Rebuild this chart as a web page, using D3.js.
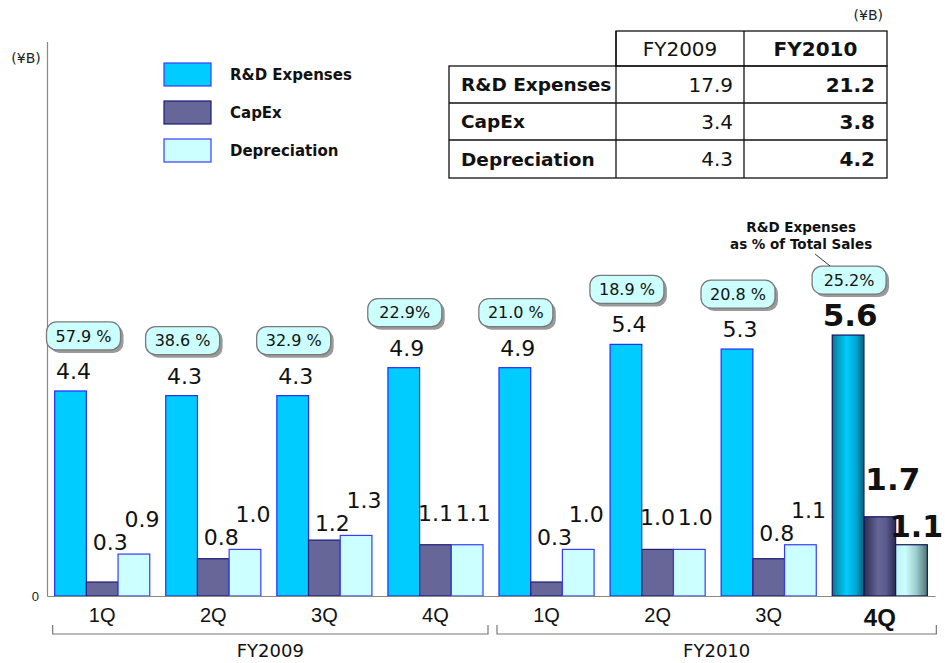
<!DOCTYPE html>
<html><head><meta charset="utf-8">
<script src="https://cdn.jsdelivr.net/npm/d3@7"></script>
<style>
html,body{margin:0;padding:0;background:#fff;}
svg{display:block;font-family:"DejaVu Sans",Verdana,sans-serif;}
</style></head>
<body>
<svg id="c" width="945" height="663"></svg>
<script>
// ---- data ----
const quarters = ["1Q","2Q","3Q","4Q","1Q","2Q","3Q","4Q"];
const fiscalYears = ["FY2009","FY2010"];
const rndExpenses = [4.4,4.3,4.3,4.9,4.9,5.4,5.3,5.6];
const capex = [0.3,0.8,1.2,1.1,0.3,1.0,0.8,1.7];
const depreciation = [0.9,1.0,1.3,1.1,1.0,1.0,1.1,1.1];
const rndPctOfSales = ["57.9 %","38.6 %","32.9 %","22.9%","21.0 %","18.9 %","20.8 %","25.2%"];
const seriesNames = ["R&D Expenses","CapEx","Depreciation"];
const tableCols = ["FY2009","FY2010"];
const table2009 = [17.9,3.4,4.3];
const table2010 = [21.2,3.8,4.2];
const unitLabel = "(¥B)";
const pctNote = ["R&D Expenses","as % of Total Sales"];

// ---- setup ----
const svg = d3.select("#c");
const defs = svg.append("defs");
const colors = ["#00ccff","#666699","#ccffff"];
const strokes = ["#2a2aff","#1a1a7a","#3a3aff"];
const hl = 7; // highlighted (latest) quarter

function grad(id, stops){
  const g = defs.append("linearGradient").attr("id",id).attr("x1","0").attr("x2","1").attr("y1","0").attr("y2","0");
  stops.forEach(s=>g.append("stop").attr("offset",s[0]).attr("stop-color",s[1]));
}
grad("g0",[["0%","#0f6f88"],["15%","#0896b8"],["45%","#00ccff"],["75%","#00a8d4"],["100%","#005f7c"]]);
grad("g1",[["0%","#2c2c52"],["45%","#666699"],["70%","#5a5a8c"],["100%","#2a2a50"]]);
grad("g2",[["0%","#b8f0f0"],["30%","#ccffff"],["65%","#9ccccc"],["100%","#4c7676"]]);

const idx = d3.range(quarters.length);
const x0 = d3.scaleBand().domain(idx).range([47,935]).paddingInner(0.144).paddingOuter(0.069);
const x1 = d3.scaleBand().domain([0,1,2]).range([0,x0.bandwidth()]);
const y = d3.scaleLinear().domain([0,11.9]).range([596,41.5]);

// ---- axes ----
const yAxis = svg.append("g").attr("transform","translate(47,0)")
  .call(d3.axisLeft(y).tickValues([0]).tickSizeInner(0).tickSizeOuter(0).tickPadding(8));
yAxis.select(".domain").attr("stroke","#888").attr("stroke-width",1.2);
yAxis.selectAll("text").attr("font-size",13).attr("fill","#222");
svg.append("text").attr("x",26).attr("y",63).attr("text-anchor","middle").attr("font-size",14).attr("fill","#222").text(unitLabel);

// ---- bars ----
const series = [rndExpenses,capex,depreciation];
const g = svg.append("g");
idx.forEach(i=>{
  series.forEach((arr,s)=>{
    g.append("rect")
      .attr("x",x0(i)+x1(s)).attr("y",y(arr[i]))
      .attr("width",x1.bandwidth()).attr("height",y(0)-y(arr[i]))
      .attr("fill", i===hl ? `url(#g${s})` : colors[s])
      .attr("stroke", i===hl ? "#14145a" : strokes[s]).attr("stroke-width",1.2);
  });
});

const xAxis = svg.append("g").attr("transform","translate(0,596)")
  .call(d3.axisBottom(x0).tickSize(0).tickPadding(10).tickFormat(i=>quarters[i]));
xAxis.select(".domain").attr("stroke","#888").attr("stroke-width",1.2);
xAxis.selectAll("text").attr("font-size",i=>i===hl?24:20).attr("font-weight",i=>i===hl?"bold":"normal")
  .attr("fill","#111").attr("dy",i=>i===hl?"0.85em":"0.8em");

// ---- value labels ----
const lab = svg.append("g").attr("fill","#111");
idx.forEach(i=>{
  const big = i===hl;
  const cx = s => x0(i)+x1(s)+x1.bandwidth()/2;
  lab.append("text").attr("x",cx(0)+(big?2:3)).attr("y",y(rndExpenses[i])-(big?9:12))
    .attr("text-anchor","middle").attr("font-size",big?31:22).attr("font-weight",big?"bold":"normal")
    .text(rndExpenses[i].toFixed(1));
  let capB, depB, capDx = 8, depDx = 8;
  if(big){ capB = y(capex[i])-27; depB = y(depreciation[i])-8; capDx = 13; depDx = 5; }
  else if(capex[i]===depreciation[i]){ capB = depB = y(capex[i])-24; capDx = 0; depDx = 6; }
  else { capB = Math.min(y(capex[i]),y(depreciation[i]))-4; depB = capB-23; }
  lab.append("text").attr("x",cx(1)+capDx).attr("y",capB)
    .attr("text-anchor","middle").attr("font-size",big?31:22).attr("font-weight",big?"bold":"normal")
    .text(capex[i].toFixed(1));
  lab.append("text").attr("x",cx(2)+depDx).attr("y",depB)
    .attr("text-anchor","middle").attr("font-size",big?30:22).attr("font-weight",big?"bold":"normal")
    .text(depreciation[i].toFixed(1));
});

// ---- percentage bubbles ----
const bub = svg.append("g");
idx.forEach(i=>{
  const cx = x0(i)+x1(0)+x1.bandwidth()/2 + (i===0?13:1);
  const cy = y(rndExpenses[i]) - 55;
  const w = 74, h = 28;
  bub.append("rect").attr("x",cx-w/2+3).attr("y",cy-h/2+3).attr("width",w).attr("height",h)
    .attr("rx",10).attr("fill","#9a9a9a");
  bub.append("rect").attr("x",cx-w/2).attr("y",cy-h/2).attr("width",w).attr("height",h)
    .attr("rx",10).attr("fill","#ccffff").attr("stroke","#7a7a7a").attr("stroke-width",1.3);
  bub.append("text").attr("x",cx).attr("y",cy).attr("dy","0.36em").attr("text-anchor","middle")
    .attr("font-size",16).attr("fill","#111").text(rndPctOfSales[i]);
});
// annotation for the bubbles
{
  const bx = x0(hl)+x1(0)+x1.bandwidth()/2;
  const by = y(rndExpenses[hl]) - 55;
  const ax = bx - 47;
  svg.append("text").attr("x",ax).attr("y",by-48).attr("text-anchor","middle").attr("font-size",13.5)
    .attr("font-weight","bold").attr("fill","#111").text(pctNote[0]);
  svg.append("text").attr("x",ax).attr("y",by-31).attr("text-anchor","middle").attr("font-size",13.5)
    .attr("font-weight","bold").attr("fill","#111").text(pctNote[1]);
  svg.append("line").attr("x1",bx-33).attr("y1",by-26).attr("x2",bx-18).attr("y2",by-14)
    .attr("stroke","#333").attr("stroke-width",1);
}

// ---- fiscal year brackets ----
const br = svg.append("g");
fiscalYears.forEach((fy,k)=>{
  const first = k*4, last = k*4+3;
  const xs = x0(first)-2;
  const xe = x0(last)+x0.bandwidth()+(k===0?5:9);
  br.append("path").attr("d",`M${xs},625V634H${xe}V625`).attr("fill","none")
    .attr("stroke","#777").attr("stroke-width",1.2);
  br.append("text").attr("x",(xs+xe)/2).attr("y",657).attr("text-anchor","middle")
    .attr("font-size",18).attr("fill","#111").text(fy);
});

// ---- legend ----
const leg = svg.append("g");
seriesNames.forEach((n,s)=>{
  const yy = 63 + s*38;
  leg.append("rect").attr("x",164).attr("y",yy).attr("width",47).attr("height",23)
    .attr("fill",colors[s]).attr("stroke",s===1?"#1a1a7a":"#3a3aff").attr("stroke-width",1.2);
  leg.append("text").attr("x",230).attr("y",yy+12).attr("dy","0.36em").attr("font-size",15)
    .attr("font-weight","bold").attr("fill","#111").text(n);
});

// ---- summary table ----
const tb = svg.append("g");
const colX = [449,616,744,887];
const rowY = [31,66,103,140,178];
svg.append("text").attr("x",883).attr("y",20).attr("text-anchor","end").attr("font-size",14).attr("fill","#222").text(unitLabel);
tb.append("rect").attr("x",colX[1]).attr("y",rowY[0]).attr("width",colX[3]-colX[1]).attr("height",rowY[1]-rowY[0])
  .attr("fill","#fff").attr("stroke","#111").attr("stroke-width",1.3);
tb.append("line").attr("x1",colX[2]).attr("x2",colX[2]).attr("y1",rowY[0]).attr("y2",rowY[4]).attr("stroke","#111").attr("stroke-width",1.3);
tb.append("rect").attr("x",colX[0]).attr("y",rowY[1]).attr("width",colX[3]-colX[0]).attr("height",rowY[4]-rowY[1])
  .attr("fill","none").attr("stroke","#111").attr("stroke-width",1.3);
[rowY[2],rowY[3]].forEach(yy=>tb.append("line").attr("x1",colX[0]).attr("x2",colX[3]).attr("y1",yy).attr("y2",yy).attr("stroke","#111").attr("stroke-width",1.3));
tb.append("line").attr("x1",colX[1]).attr("x2",colX[1]).attr("y1",rowY[0]).attr("y2",rowY[4]).attr("stroke","#111").attr("stroke-width",1.3);
tableCols.forEach((c,k)=>{
  tb.append("text").attr("x",(colX[k+1]+colX[k+2])/2).attr("y",(rowY[0]+rowY[1])/2).attr("dy","0.36em")
    .attr("text-anchor","middle").attr("font-size",20).attr("font-weight",k===1?"bold":"normal").attr("fill","#111").text(c);
});
seriesNames.forEach((n,r)=>{
  const cy = (rowY[r+1]+rowY[r+2])/2;
  tb.append("text").attr("x",colX[0]+12).attr("y",cy).attr("dy","0.36em").attr("font-size",18.5)
    .attr("font-weight","bold").attr("fill","#111").text(n);
  tb.append("text").attr("x",colX[2]-11).attr("y",cy).attr("dy","0.36em").attr("text-anchor","end")
    .attr("font-size",20).attr("fill","#111").text(table2009[r].toFixed(1));
  tb.append("text").attr("x",colX[3]-12).attr("y",cy).attr("dy","0.36em").attr("text-anchor","end")
    .attr("font-size",20).attr("font-weight","bold").attr("fill","#111").text(table2010[r].toFixed(1));
});
</script>
</body></html>
